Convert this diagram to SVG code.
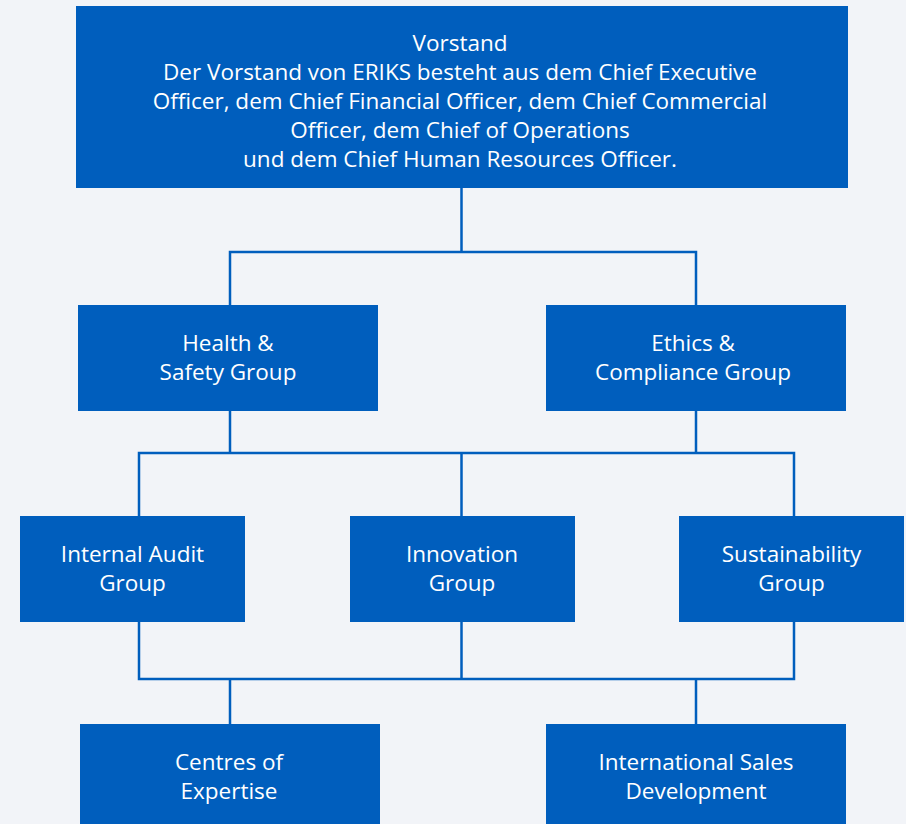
<svg xmlns="http://www.w3.org/2000/svg" width="906" height="824" viewBox="0 0 906 824">
<style>
.box{fill:#005EBD}
.t{fill:#FFFFFF;font-family:"Open Sans","Liberation Sans",sans-serif;font-size:22.5px;font-weight:500;text-anchor:middle}
.c{fill:none;stroke:#005EBD;stroke-width:2.5}
</style>
<rect width="906" height="824" fill="#F2F4F8"/>
<g id="connectors">
<path class="c" d="M461.5 188V252M230 305V252H696V305"/>
<path class="c" d="M230 411V453M696 411V453M139 516V453H794V516M461.5 453V516"/>
<path class="c" d="M139 622V679H794V622M461.5 622V679M230 679V724M696 679V724"/>
</g>
<g id="vorstand">
<rect class="box" x="76" y="6" width="772" height="182"/>
<text class="t"><tspan x="460" y="50.5">Vorstand</tspan><tspan x="460" y="79.5">Der Vorstand von ERIKS besteht aus dem Chief Executive</tspan><tspan x="460" y="108.5">Officer, dem Chief Financial Officer, dem Chief Commercial</tspan><tspan x="460" y="137.5">Officer, dem Chief of Operations</tspan><tspan x="460" y="166.5">und dem Chief Human Resources Officer.</tspan></text>
</g>
<g id="health">
<rect class="box" x="78" y="305" width="300" height="106"/>
<text class="t"><tspan x="228" y="350.5">Health &amp;</tspan><tspan x="228" y="379.5">Safety Group</tspan></text>
</g>
<g id="ethics">
<rect class="box" x="546" y="305" width="300" height="106"/>
<text class="t"><tspan x="693" y="350.5">Ethics &amp;</tspan><tspan x="693" y="379.5">Compliance Group</tspan></text>
</g>
<g id="audit">
<rect class="box" x="20" y="516" width="225" height="106"/>
<text class="t"><tspan x="132.5" y="562">Internal Audit</tspan><tspan x="132.5" y="591">Group</tspan></text>
</g>
<g id="innovation">
<rect class="box" x="350" y="516" width="225" height="106"/>
<text class="t"><tspan x="462" y="562">Innovation</tspan><tspan x="462" y="591">Group</tspan></text>
</g>
<g id="sustainability">
<rect class="box" x="679" y="516" width="225" height="106"/>
<text class="t"><tspan x="791.5" y="562">Sustainability</tspan><tspan x="791.5" y="591">Group</tspan></text>
</g>
<g id="centres">
<rect class="box" x="80" y="724" width="300" height="100"/>
<text class="t"><tspan x="229" y="770">Centres of</tspan><tspan x="229" y="799">Expertise</tspan></text>
</g>
<g id="sales">
<rect class="box" x="546" y="724" width="300" height="100"/>
<text class="t"><tspan x="696" y="770">International Sales</tspan><tspan x="696" y="799">Development</tspan></text>
</g>
</svg>
